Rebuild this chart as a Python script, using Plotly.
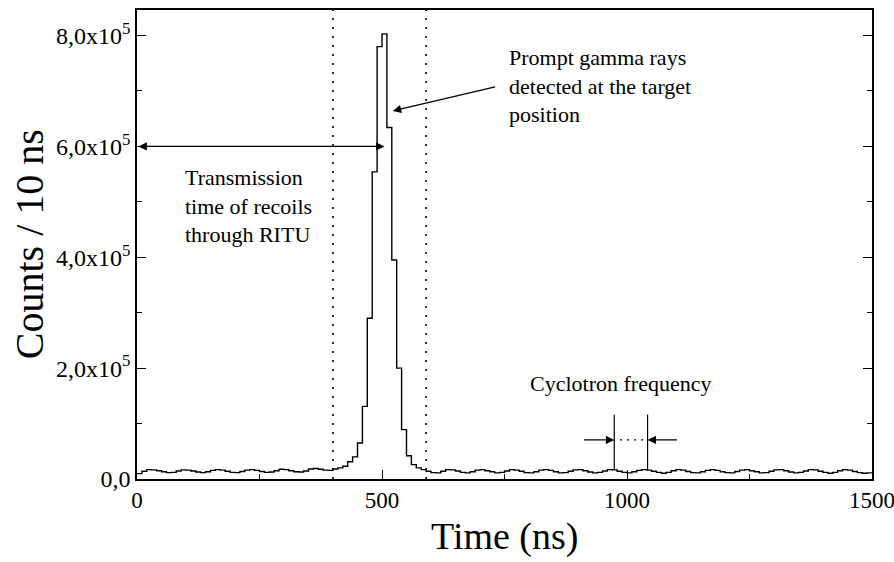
import plotly.graph_objects as go

# ---- data ----
bin_starts = list(range(0, 1500, 10))  # ns, 10 ns bins
counts = [
    9700, 14000, 17000, 16500, 15000, 13000, 11500, 12000, 14500, 16500,
    16000, 14500, 12500, 11500, 13000, 15500, 17000, 16000, 14000, 12000,
    11500, 13500, 16000, 17000, 15500, 13500, 12000, 12500, 15000, 17500,
    17000, 15000, 13000, 12500, 14500, 18000, 19000, 17500, 16000, 15500,
    18000, 20000, 23000, 31000, 40000, 65000, 131000, 290000, 554000, 780000,
    803000, 634000, 395000, 200000, 89000, 42000, 26000, 20000, 17000, 14000,
    11500, 11000, 14000, 17000, 16500, 14500, 12000, 11000, 13000, 16000,
    17000, 15000, 13000, 11000, 12000, 14500, 17000, 16000, 14000, 11500,
    11000, 13000, 16000, 17000, 15500, 13000, 11000, 11500, 14000, 16500,
    17000, 15000, 12500, 11000, 12000, 14500, 17000, 16500, 14000, 12000,
    11000, 13000, 15500, 17000, 16000, 14000, 12000, 10500, 12000, 15000,
    17000, 16000, 13500, 11500, 11000, 13000, 15500, 17000, 15500, 13000,
    11500, 11000, 13500, 16000, 17000, 15000, 13000, 11000, 11500, 14000,
    16500, 17000, 15000, 12500, 11000, 12000, 14500, 17000, 16500, 14000,
    12000, 10500, 12000, 15000, 17000, 16000, 13500, 11500, 10500, 11000,
]
x_end = 1500

y_tickvals = [0, 200000, 400000, 600000, 800000]
y_ticktext = ["0,0", "2,0x10<sup>5</sup>", "4,0x10<sup>5</sup>",
              "6,0x10<sup>5</sup>", "8,0x10<sup>5</sup>"]
x_tickvals = [0, 500, 1000, 1500]
x_ticktext = ["0", "500", "1000", "1500"]

window_lines = [400, 590]           # ns, dotted lines
transmission_arrow = (0, 505, 600000)
gamma_tail = (734, 708000)
gamma_tip = (522, 664000)
cyc_marks = [974, 1042]
cyc_y = 70500
cyc_top = 116000
cyc_bottom = 17000
cyc_tails = [909, 1105]

FONT = "Liberation Serif"

fig = go.Figure()
fig.add_trace(go.Scatter(
    x=bin_starts + [x_end], y=counts + [counts[-1]],
    mode="lines", line=dict(color="black", width=1.4, shape="hv"),
    showlegend=False, hoverinfo="skip"))

for xv in window_lines:
    fig.add_shape(type="line", xref="x", yref="paper", x0=xv, x1=xv, y0=0, y1=1,
                  line=dict(color="black", width=1.6, dash="2px,7px"))

# cyclotron vertical markers
for xv in cyc_marks:
    fig.add_shape(type="line", xref="x", yref="y", x0=xv, x1=xv,
                  y0=cyc_bottom, y1=cyc_top, line=dict(color="black", width=1.2))
fig.add_shape(type="line", xref="x", yref="y", x0=cyc_marks[0] + 12, x1=cyc_marks[1] - 8,
              y0=cyc_y, y1=cyc_y, line=dict(color="black", width=1.2, dash="2px,5px"))

arrow_common = dict(showarrow=True, arrowhead=2, arrowsize=1.4, arrowwidth=1.2,
                    arrowcolor="black", text="", axref="x", ayref="y", xref="x", yref="y")

# transmission double arrow
fig.add_annotation(x=transmission_arrow[1], y=transmission_arrow[2],
                   ax=transmission_arrow[0], ay=transmission_arrow[2],
                   arrowside="end+start", standoff=0, startstandoff=0, **arrow_common)
# gamma arrow
fig.add_annotation(x=gamma_tip[0], y=gamma_tip[1], ax=gamma_tail[0], ay=gamma_tail[1],
                   **arrow_common)
# cyclotron arrows
fig.add_annotation(x=cyc_marks[0], y=cyc_y, ax=cyc_tails[0], ay=cyc_y, **arrow_common)
fig.add_annotation(x=cyc_marks[1], y=cyc_y, ax=cyc_tails[1], ay=cyc_y, **arrow_common)

txt_font = dict(family=FONT, size=22, color="black")
fig.add_annotation(x=755, y=709000, xref="x", yref="y", xanchor="left", yanchor="middle",
                   align="left", showarrow=False, font=txt_font,
                   text="Prompt gamma rays<br>detected at the target<br>position")
fig.add_annotation(x=93, y=492000, xref="x", yref="y", xanchor="left", yanchor="middle",
                   align="left", showarrow=False, font=txt_font,
                   text="Transmission<br>time of recoils<br>through RITU")
fig.add_annotation(x=987, y=173000, xref="x", yref="y", xanchor="center", yanchor="middle",
                   showarrow=False, font=txt_font, text="Cyclotron frequency")

# axis titles as annotations
fig.add_annotation(x=-0.146, y=0.5, xref="paper", yref="paper", textangle=-90,
                   xanchor="center", yanchor="middle", showarrow=False,
                   font=dict(family=FONT, size=40, color="black"), text="Counts / 10 ns")
fig.add_annotation(x=0.5, y=-0.1222, xref="paper", yref="paper",
                   xanchor="center", yanchor="middle", showarrow=False,
                   font=dict(family=FONT, size=38, color="black"), text="Time (ns)")

fig.update_xaxes(range=[0, 1500], tickvals=x_tickvals, ticktext=x_ticktext,
                 ticks="inside", ticklen=9, tickwidth=1.3, tickcolor="black",
                 ticklabeloverflow="allow", automargin=False,
                 minor=dict(tickvals=[250, 750, 1250], ticks="inside", ticklen=5,
                            tickwidth=1.3, tickcolor="black"),
                 showline=True, linecolor="black", linewidth=1.5, mirror=True,
                 showgrid=False, zeroline=False,
                 tickfont=dict(family=FONT, size=23, color="black"))
fig.update_yaxes(range=[0, 846000], tickvals=y_tickvals, ticktext=y_ticktext,
                 ticks="inside", ticklen=9, tickwidth=1.3, tickcolor="black",
                 automargin=False,
                 minor=dict(tickvals=[100000, 300000, 500000, 700000], ticks="inside",
                            ticklen=5, tickwidth=1.3, tickcolor="black"),
                 showline=True, linecolor="black", linewidth=1.5, mirror="ticks",
                 showgrid=False, zeroline=False,
                 tickfont=dict(family=FONT, size=24, color="black"))

fig.update_layout(width=894, height=562, margin=dict(l=137, r=22, t=10, b=83),
                  plot_bgcolor="white", paper_bgcolor="white",
                  font=dict(family=FONT, color="black"))

fig.write_html("out.html")
